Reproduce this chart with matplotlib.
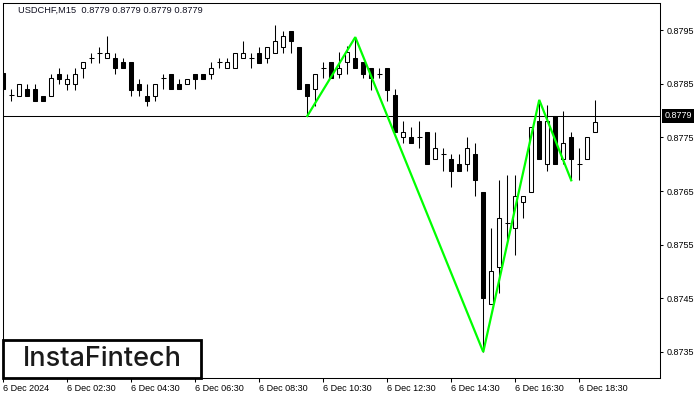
import matplotlib
matplotlib.use("Agg")
import matplotlib.pyplot as plt
from matplotlib.patches import Rectangle
import matplotlib.transforms as mtransforms

title_text = "USDCHF,M15  0.8779 0.8779 0.8779 0.8779"

opens = [0.8787, 0.87829, 0.87828, 0.8784, 0.8784, 0.87828, 0.87828, 0.87869, 0.87849, 0.87849,
         0.87879, 0.87899, 0.87908, 0.87899, 0.87899, 0.8789, 0.8789, 0.87849, 0.87828, 0.87828,
         0.8786, 0.87869, 0.87849, 0.87849, 0.87869, 0.87869, 0.87869, 0.8789, 0.87879, 0.87879,
         0.87899, 0.87899, 0.87908, 0.87899, 0.87908, 0.87919, 0.87949, 0.87919, 0.87849, 0.8784,
         0.8788, 0.8789, 0.87869, 0.8789, 0.87899, 0.8789, 0.8788, 0.87869, 0.8788, 0.87829,
         0.8775, 0.8775, 0.8775, 0.87761, 0.87709, 0.8772, 0.87709, 0.877, 0.877, 0.87719,
         0.87649, 0.87439, 0.87509, 0.8759, 0.87581, 0.8763, 0.87649, 0.87781, 0.877, 0.8779,
         0.87709, 0.8775, 0.877, 0.87709, 0.8776]
highs = [0.8787, 0.8784, 0.87849, 0.87849, 0.87849, 0.87828, 0.87869, 0.87879, 0.87869, 0.87879,
         0.8789, 0.87908, 0.87919, 0.87939, 0.87908, 0.87899, 0.8789, 0.87859, 0.87849, 0.87849,
         0.87869, 0.87869, 0.87859, 0.87859, 0.87869, 0.87869, 0.8789, 0.87899, 0.87899, 0.87908,
         0.87929, 0.87908, 0.87919, 0.87919, 0.87959, 0.87949, 0.87949, 0.87919, 0.87849, 0.87869,
         0.8789, 0.8789, 0.8791, 0.8792, 0.87937, 0.8789, 0.8788, 0.8788, 0.8788, 0.8784,
         0.87781, 0.8777, 0.87781, 0.87761, 0.87761, 0.8773, 0.87719, 0.87719, 0.8775, 0.87739,
         0.87649, 0.87581, 0.8767, 0.8768, 0.8768, 0.8764, 0.87769, 0.8782, 0.8781, 0.8779,
         0.87799, 0.8776, 0.8773, 0.8775, 0.8782]
lows = [0.87827, 0.87818, 0.87828, 0.87828, 0.87818, 0.87818, 0.87828, 0.87849, 0.87838, 0.87838,
        0.8786, 0.87889, 0.87889, 0.87899, 0.87869, 0.87879, 0.87828, 0.87828, 0.87808, 0.87818,
        0.8784, 0.8784, 0.8784, 0.87849, 0.8784, 0.87859, 0.87859, 0.87879, 0.87879, 0.87879,
        0.87899, 0.87879, 0.87889, 0.87889, 0.87908, 0.87908, 0.87908, 0.8784, 0.8779, 0.87808,
        0.8786, 0.8786, 0.8786, 0.87869, 0.8788, 0.8786, 0.87838, 0.8786, 0.87818, 0.87761,
        0.87739, 0.87739, 0.8773, 0.877, 0.87709, 0.87688, 0.87658, 0.87688, 0.87688, 0.8764,
        0.8735, 0.87439, 0.8746, 0.87559, 0.8753, 0.876, 0.87649, 0.87709, 0.87688, 0.877,
        0.877, 0.8767, 0.8767, 0.87709, 0.8776]
closes = [0.8784, 0.87829, 0.87849, 0.87828, 0.87818, 0.87818, 0.8786, 0.87859, 0.87859, 0.87869,
          0.8789, 0.87899, 0.87908, 0.87908, 0.87879, 0.87879, 0.87838, 0.87838, 0.87818, 0.87849,
          0.8786, 0.8784, 0.8784, 0.87859, 0.87859, 0.87859, 0.87879, 0.8789, 0.8789, 0.87908,
          0.87908, 0.87899, 0.87889, 0.87919, 0.87929, 0.87939, 0.87929, 0.8784, 0.87828, 0.87869,
          0.8788, 0.8786, 0.8788, 0.8791, 0.8788, 0.87869, 0.8786, 0.87869, 0.87838, 0.87761,
          0.87761, 0.87739, 0.8775, 0.877, 0.8773, 0.8772, 0.87688, 0.87688, 0.8773, 0.8767,
          0.8745, 0.875, 0.876, 0.8759, 0.8764, 0.8764, 0.87769, 0.87709, 0.87781, 0.877,
          0.87739, 0.87709, 0.877, 0.8775, 0.87779]

pattern_bars = [38, 44, 60, 67, 71]
pattern_prices = [0.8779, 0.87937, 0.8735, 0.8782, 0.8767]

current_price = 0.8779
ytick_values = [0.8735, 0.8745, 0.8755, 0.8765, 0.8775, 0.8785, 0.8795]
xtick_bars = [0, 8, 16, 24, 32, 40, 48, 56, 64, 72]
xtick_labels = ["6 Dec 2024", "6 Dec 02:30", "6 Dec 04:30", "6 Dec 06:30", "6 Dec 08:30",
                "6 Dec 10:30", "6 Dec 12:30", "6 Dec 14:30", "6 Dec 16:30", "6 Dec 18:30"]

W, H = 700, 400
fig = plt.figure(figsize=(7, 4), dpi=100)
ax_l, ax_r, ax_t, ax_b = 3, 660, 2.5, 378
ax = fig.add_axes([ax_l / W, 1 - ax_b / H, (ax_r - ax_l) / W, (ax_b - ax_t) / H])

lw = 0.75
body_w = 0.52
ax.axhline(current_price, color="black", lw=lw, zorder=1)

for i in range(len(opens)):
    o, h, l, c = opens[i], highs[i], lows[i], closes[i]
    top, bot = max(o, c), min(o, c)
    if h > top:
        ax.vlines(i, top, h, color="black", lw=lw, zorder=2)
    if l < bot:
        ax.vlines(i, l, bot, color="black", lw=lw, zorder=2)
    if abs(o - c) < 1e-9:
        ax.hlines(o, i - body_w / 2 - 0.06, i + body_w / 2 + 0.06, color="black", lw=lw, zorder=3)
    else:
        fc = "black" if c < o else "white"
        ax.add_patch(Rectangle((i - body_w / 2, bot), body_w, top - bot,
                               facecolor=fc, edgecolor="black", lw=lw, zorder=3))

ax.plot(pattern_bars, pattern_prices, color="#00ff00", lw=1.6, zorder=5, solid_joinstyle="miter")

ax.set_xlim(-0.05, 82.1)
ax.set_ylim(0.873014, 0.880016)

for s in ax.spines.values():
    s.set_linewidth(lw)
    s.set_color("black")

ax.yaxis.tick_right()
ax.set_yticks(ytick_values)
ax.set_yticklabels([f"{v:.4f}" for v in ytick_values])
ax.tick_params(axis="y", length=2, width=lw, pad=2.5, labelsize=6.5, direction="out")
ax.set_xticks(xtick_bars)
ax.set_xticklabels(xtick_labels)
ax.tick_params(axis="x", length=3, width=lw, pad=1.5, labelsize=6.5, direction="out")
for lbl in ax.get_xticklabels():
    lbl.set_ha("left")
    lbl.set_fontfamily("Liberation Sans")
for lbl in ax.get_yticklabels():
    lbl.set_fontfamily("Liberation Sans")

ax.text(15 / (ax_r - ax_l), 1 - 8 / (ax_b - ax_t), title_text, transform=ax.transAxes,
        ha="left", va="center", fontsize=6.7, family="Liberation Sans", color="#111122")

trans = mtransforms.blended_transform_factory(ax.transAxes, ax.transData)
ax.text(1 + 4.5 / (ax_r - ax_l), current_price, f"{current_price:.4f}", transform=trans,
        ha="left", va="center", fontsize=6.5, family="Liberation Sans", color="white",
        bbox=dict(boxstyle="square,pad=0.25", fc="black", ec="none"), zorder=10, clip_on=False)

logo = Rectangle((3 / W, 1 - 378 / H), 198 / W, 38 / H, transform=fig.transFigure,
                 facecolor="white", edgecolor="black", lw=2, zorder=20)
fig.add_artist(logo)
fig.text(102 / W, 1 - 359.5 / H, "InstaFintech", ha="center", va="center", fontsize=19.5,
         family="Inter", fontweight="medium", color="#1a1a1a", zorder=21)

fig.savefig("out.png", dpi=100)
